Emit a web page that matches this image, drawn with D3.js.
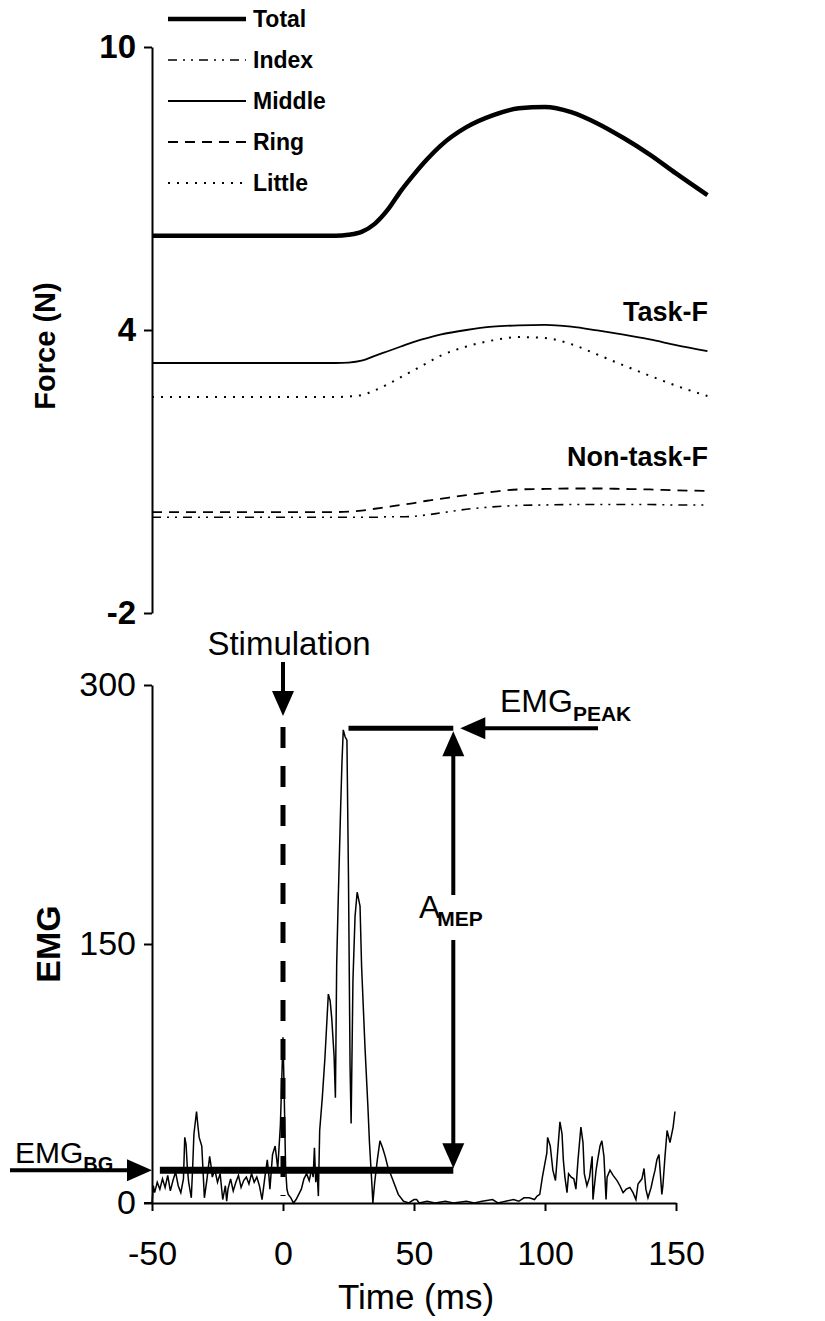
<!DOCTYPE html>
<html>
<head>
<meta charset="utf-8">
<script src="https://cdn.jsdelivr.net/npm/d3@7"></script>
<style>
	body { margin: 0; background: #fff; }
	text { font-family: "Liberation Sans", Arial, sans-serif; fill: #000; }
</style>
</head>
<body>
<div id="chart"></div>
<script>
// force traces (N), sampled by time (ms)
var forceTime = [-50, 20, 25, 30, 35, 40, 45, 50, 55, 60, 70, 80, 90, 100, 110, 120, 130, 140, 150, 162];
var totalForce = [6.0, 6.0, 6.02, 6.08, 6.25, 6.55, 6.95, 7.3, 7.62, 7.9, 8.3, 8.55, 8.7, 8.73, 8.62, 8.38, 8.07, 7.72, 7.32, 6.86];
var indexForce = [0.03, 0.03, 0.03, 0.03, 0.03, 0.04, 0.04, 0.05, 0.08, 0.12, 0.2, 0.25, 0.28, 0.29, 0.3, 0.3, 0.3, 0.3, 0.29, 0.29];
var middleForce = [3.3, 3.3, 3.31, 3.35, 3.45, 3.55, 3.65, 3.75, 3.83, 3.9, 4.0, 4.07, 4.1, 4.11, 4.07, 3.99, 3.9, 3.8, 3.68, 3.55];
var ringForce = [0.14, 0.14, 0.15, 0.17, 0.21, 0.25, 0.29, 0.33, 0.38, 0.42, 0.5, 0.57, 0.62, 0.63, 0.64, 0.64, 0.63, 0.62, 0.6, 0.59];
var littleForce = [2.58, 2.58, 2.59, 2.62, 2.72, 2.85, 3.0, 3.15, 3.3, 3.45, 3.65, 3.78, 3.85, 3.83, 3.7, 3.48, 3.25, 3.03, 2.82, 2.6];

var fingerNames = ["Total", "Index", "Middle", "Ring", "Little"];

// EMG trace
var emgTime = [
	-50, -49.5, -49, -48, -47, -46, -45, -44, -43, -42, -41, -40, -39, -38, -37.5, -37, -36.5, -36, -35, -34.5,
	-34, -33, -32.5, -32, -31, -30.5, -30, -29, -28, -27.5, -27, -26, -25, -24, -23, -22, -21.5, -21, -20, -19,
	-18, -17, -16, -15, -14, -13, -12, -11, -10, -9, -8, -7, -6, -5.5, -5, -4, -3, -2, -1, -0.5,
	0, 0.5, 1, 1.5, 2, 3, 4, 5, 6, 7, 8, 9, 10, 11, 11.5, 12, 12.5, 13, 13.5, 14,
	15, 16, 17.3, 18, 18.6, 19.5, 20, 20.5, 21, 22, 22.5, 23, 23.7, 24.4, 25, 25.6, 26, 26.7, 27.5, 28.3,
	29.4, 30, 31.3, 32.4, 33, 34, 34.3, 35, 36, 37, 38, 39, 40, 42, 44, 46, 48, 50, 51, 52,
	55, 58, 62, 65, 70, 73, 76, 80, 82, 85, 88, 90, 92, 94, 96, 97, 98, 99, 100.7, 101,
	102, 103, 104, 104.6, 105.7, 106.5, 107, 107.6, 108.4, 109, 110, 111, 111.8, 112.6, 113.7, 114.5, 115, 116, 117, 118,
	118.3, 119.5, 120, 121, 121.7, 122.5, 123.3, 123.7, 124.8, 126, 127.5, 128.6, 129.8, 131, 132.4, 133.6, 134.7, 135.5, 137, 137.8,
	138.5, 139.3, 140.5, 141.2, 142, 142.7, 143.5, 144.6, 145, 145.8, 146.6, 147.7, 148.9, 149.6
];
var emgValue = [
	0, 10, 6, 12, 8, 14, 9, 16, 7, 13, 18, 10, 6, 14, 38, 34, 20, 12, 3, 20,
	40, 53, 45, 38, 33, 18, 3, 14, 27, 22, 15, 19, 12, 17, 2, 10, 1, 8, 14, 7,
	12, 16, 9, 13, 15, 11, 17, 12, 15, 10, 2, 14, 25, 18, 8, 28, 33, 20, 45, 70,
	96, 60, 20, 8, 5, 3, 0, 2, 5, 8, 14, 17, 13, 20, 15, 32, 12, 19, 4, 42,
	61, 84, 121, 117, 107, 85, 61, 139, 171, 229, 255, 274, 270, 268, 187, 79, 46, 129, 166, 180,
	172, 137, 90, 56, 35, 9, 0, 12, 25, 36, 32, 27, 21, 13, 5, 1, 0, 2, 2, 0,
	1, 0, 1, 0, 1, 0, 1, 2, 0, 1, 2, 1, 3, 3, 2, 4, 5, 15, 29, 38,
	33, 19, 13, 25, 47, 40, 25, 15, 6, 17, 15, 14, 8, 25, 44, 35, 17, 10, 15, 27,
	2, 19, 24, 33, 36, 27, 2, 15, 19, 16, 13, 10, 6, 8, 9, 6, 2, 11, 14, 20,
	8, 3, 9, 14, 19, 25, 28, 5, 10, 27, 42, 35, 44, 53
];

// annotation values
var stimTime = 0;
var bgLevel = 19;
var peakLevel = 275;
var measureTime = 65;

var forceTicks = [-2, 4, 10];
var emgTicks = [0, 150, 300];
var timeTicks = [-50, 0, 50, 100, 150];

function arrowHead(svg, tipX, tipY, dir) {
	// dir: "down", "up", "left", "right"
	var w = 11, l = 25, p;
	if (dir == "down") p = [[tipX, tipY], [tipX - w, tipY - l], [tipX + w, tipY - l]];
	if (dir == "up") p = [[tipX, tipY], [tipX - w, tipY + l], [tipX + w, tipY + l]];
	if (dir == "left") p = [[tipX, tipY], [tipX + l, tipY - w], [tipX + l, tipY + w]];
	if (dir == "right") p = [[tipX, tipY], [tipX - l, tipY - w], [tipX - l, tipY + w]];
	svg.append("path")
		.attr("d", "M" + p.join("L") + "Z")
		.style("fill", "#000");
}

function drawChart(code) {
	var width = 825;
	var height = 1321;

	var svg = d3
		.select(code)
		.append("svg")
		.attr("width", width)
		.attr("height", height);

	var xScale = d3.scaleLinear().domain([-50, 150]).range([152, 676]);
	var yForce = d3.scaleLinear().domain([-2, 10]).range([613, 47]);
	var yEmg = d3.scaleLinear().domain([0, 300]).range([1203, 685]);

	// ---------- force panel ----------
	var forceAxis = d3
		.axisLeft(yForce)
		.tickValues(forceTicks)
		.tickSizeInner(8)
		.tickSizeOuter(0)
		.tickPadding(8)
		.tickFormat((d) => String(d));
	var gF = svg.append("g")
		.attr("transform", "translate(" + xScale(-50) + ",0)")
		.call(forceAxis);
	gF.selectAll("path, line").style("stroke", "#000").style("stroke-width", 2);
	gF.selectAll("text")
		.style("font-size", "33px")
		.style("font-weight", "bold")
		.style("font-family", "Liberation Sans, Arial, sans-serif");

	svg.append("text")
		.attr("transform", "translate(55,346) rotate(-90)")
		.style("text-anchor", "middle")
		.style("font-size", "29px")
		.style("font-weight", "bold")
		.text("Force (N)");

	var series = [totalForce, indexForce, middleForce, ringForce, littleForce];
	var widths = [4.5, 1.6, 1.8, 1.8, 2];
	var dashes = [null, "9,6,2,6,2,6", null, "10,7", "2,7"];

	var line = d3
		.line()
		.curve(d3.curveMonotoneX)
		.x((d, i) => xScale(forceTime[i]))
		.y((d) => yForce(d));

	for (let i = 0; i < series.length; i++) {
		svg.append("path")
			.datum(series[i])
			.attr("d", line)
			.style("fill", "none")
			.style("stroke", "#000")
			.style("stroke-width", widths[i])
			.style("stroke-dasharray", dashes[i]);

		// legend
		var ly = 19 + i * 41;
		svg.append("line")
			.attr("x1", 168)
			.attr("x2", 246)
			.attr("y1", ly)
			.attr("y2", ly)
			.style("stroke", "#000")
			.style("stroke-width", widths[i])
			.style("stroke-dasharray", dashes[i]);
		svg.append("text")
			.attr("x", 253)
			.attr("y", ly)
			.attr("dy", ".36em")
			.style("font-size", "23px")
			.style("font-weight", "bold")
			.text(fingerNames[i]);
	}

	svg.append("text")
		.attr("x", 708)
		.attr("y", 321)
		.style("text-anchor", "end")
		.style("font-size", "27px")
		.style("font-weight", "bold")
		.text("Task-F");
	svg.append("text")
		.attr("x", 708)
		.attr("y", 466)
		.style("text-anchor", "end")
		.style("font-size", "27px")
		.style("font-weight", "bold")
		.text("Non-task-F");

	// ---------- EMG panel ----------
	var emgAxis = d3
		.axisLeft(yEmg)
		.tickValues(emgTicks)
		.tickSizeInner(8)
		.tickSizeOuter(0)
		.tickPadding(8)
		.tickFormat((d) => String(d));
	var gE = svg.append("g")
		.attr("transform", "translate(" + xScale(-50) + ",0)")
		.call(emgAxis);

	var timeAxis = d3
		.axisBottom(xScale)
		.tickValues(timeTicks)
		.tickSizeInner(8)
		.tickSizeOuter(0)
		.tickPadding(30)
		.tickFormat((d) => String(d));
	var gT = svg.append("g")
		.attr("transform", "translate(0," + yEmg(0) + ")")
		.call(timeAxis);

	[gE, gT].forEach(function (g) {
		g.selectAll("path, line").style("stroke", "#000").style("stroke-width", 2);
		g.selectAll("text")
			.style("font-size", "34px")
			.style("font-family", "Liberation Sans, Arial, sans-serif");
	});
	// x axis runs out to the left tick of the y axis
	svg.append("line")
		.attr("x1", xScale(-50) - 8)
		.attr("x2", xScale(-50))
		.attr("y1", yEmg(0))
		.attr("y2", yEmg(0))
		.style("stroke", "#000")
		.style("stroke-width", 2);

	svg.append("text")
		.attr("transform", "translate(60," + yEmg(150) + ") rotate(-90)")
		.style("text-anchor", "middle")
		.style("font-size", "34px")
		.style("font-weight", "bold")
		.text("EMG");

	svg.append("text")
		.attr("x", 416)
		.attr("y", 1309)
		.style("text-anchor", "middle")
		.style("font-size", "35px")
		.text("Time (ms)");

	var emgLine = d3
		.line()
		.x((d, i) => xScale(emgTime[i]))
		.y((d) => yEmg(d));

	svg.append("path")
		.datum(emgValue)
		.attr("d", emgLine)
		.style("fill", "none")
		.style("stroke", "#000")
		.style("stroke-width", 1.5)
		.style("stroke-linejoin", "miter");

	// stimulation marker
	var sx = xScale(stimTime);
	svg.append("line")
		.attr("x1", sx)
		.attr("x2", sx)
		.attr("y1", 727)
		.attr("y2", yEmg(4))
		.style("stroke", "#000")
		.style("stroke-width", 5)
		.style("stroke-dasharray", "21,18");
	svg.append("line")
		.attr("x1", sx)
		.attr("x2", sx)
		.attr("y1", 662)
		.attr("y2", 695)
		.style("stroke", "#000")
		.style("stroke-width", 4);
	arrowHead(svg, sx, 716, "down");
	svg.append("text")
		.attr("x", 289)
		.attr("y", 655)
		.style("text-anchor", "middle")
		.style("font-size", "33px")
		.text("Stimulation");

	// peak level
	var mx = xScale(measureTime);
	svg.append("line")
		.attr("x1", xScale(25))
		.attr("x2", mx)
		.attr("y1", yEmg(peakLevel))
		.attr("y2", yEmg(peakLevel))
		.style("stroke", "#000")
		.style("stroke-width", 5);
	svg.append("line")
		.attr("x1", 598)
		.attr("x2", mx + 25)
		.attr("y1", yEmg(peakLevel))
		.attr("y2", yEmg(peakLevel))
		.style("stroke", "#000")
		.style("stroke-width", 4);
	arrowHead(svg, mx + 7, yEmg(peakLevel), "left");
	var tPeak = svg.append("text")
		.attr("x", 500)
		.attr("y", 712)
		.style("font-size", "32px");
	tPeak.append("tspan").text("EMG");
	tPeak.append("tspan")
		.attr("dy", 9)
		.style("font-size", "21px")
		.style("font-weight", "bold")
		.text("PEAK");

	// background level
	svg.append("line")
		.attr("x1", xScale(-47))
		.attr("x2", mx)
		.attr("y1", yEmg(bgLevel))
		.attr("y2", yEmg(bgLevel))
		.style("stroke", "#000")
		.style("stroke-width", 7);
	svg.append("line")
		.attr("x1", 10)
		.attr("x2", xScale(-50) - 20)
		.attr("y1", yEmg(bgLevel))
		.attr("y2", yEmg(bgLevel))
		.style("stroke", "#000")
		.style("stroke-width", 4);
	arrowHead(svg, xScale(-50), yEmg(bgLevel), "right");
	var tBg = svg.append("text")
		.attr("x", 15)
		.attr("y", 1163)
		.style("font-size", "30px");
	tBg.append("tspan").text("EMG");
	tBg.append("tspan")
		.attr("dy", 8)
		.style("font-size", "20px")
		.style("font-weight", "bold")
		.text("BG");

	// MEP amplitude
	svg.append("line")
		.attr("x1", mx)
		.attr("x2", mx)
		.attr("y1", yEmg(peakLevel) + 20)
		.attr("y2", 895)
		.style("stroke", "#000")
		.style("stroke-width", 4);
	svg.append("line")
		.attr("x1", mx)
		.attr("x2", mx)
		.attr("y1", 940)
		.attr("y2", yEmg(bgLevel) - 20)
		.style("stroke", "#000")
		.style("stroke-width", 4);
	arrowHead(svg, mx, yEmg(peakLevel) + 3, "up");
	arrowHead(svg, mx, yEmg(bgLevel) - 2, "down");
	var tA = svg.append("text")
		.attr("x", 419)
		.attr("y", 918)
		.style("font-size", "32px");
	tA.append("tspan").text("A");
	tA.append("tspan")
		.attr("dy", 8)
		.attr("dx", -3)
		.style("font-size", "21px")
		.style("font-weight", "bold")
		.text("MEP");
}

drawChart("#chart");
</script>
</body>
</html>
